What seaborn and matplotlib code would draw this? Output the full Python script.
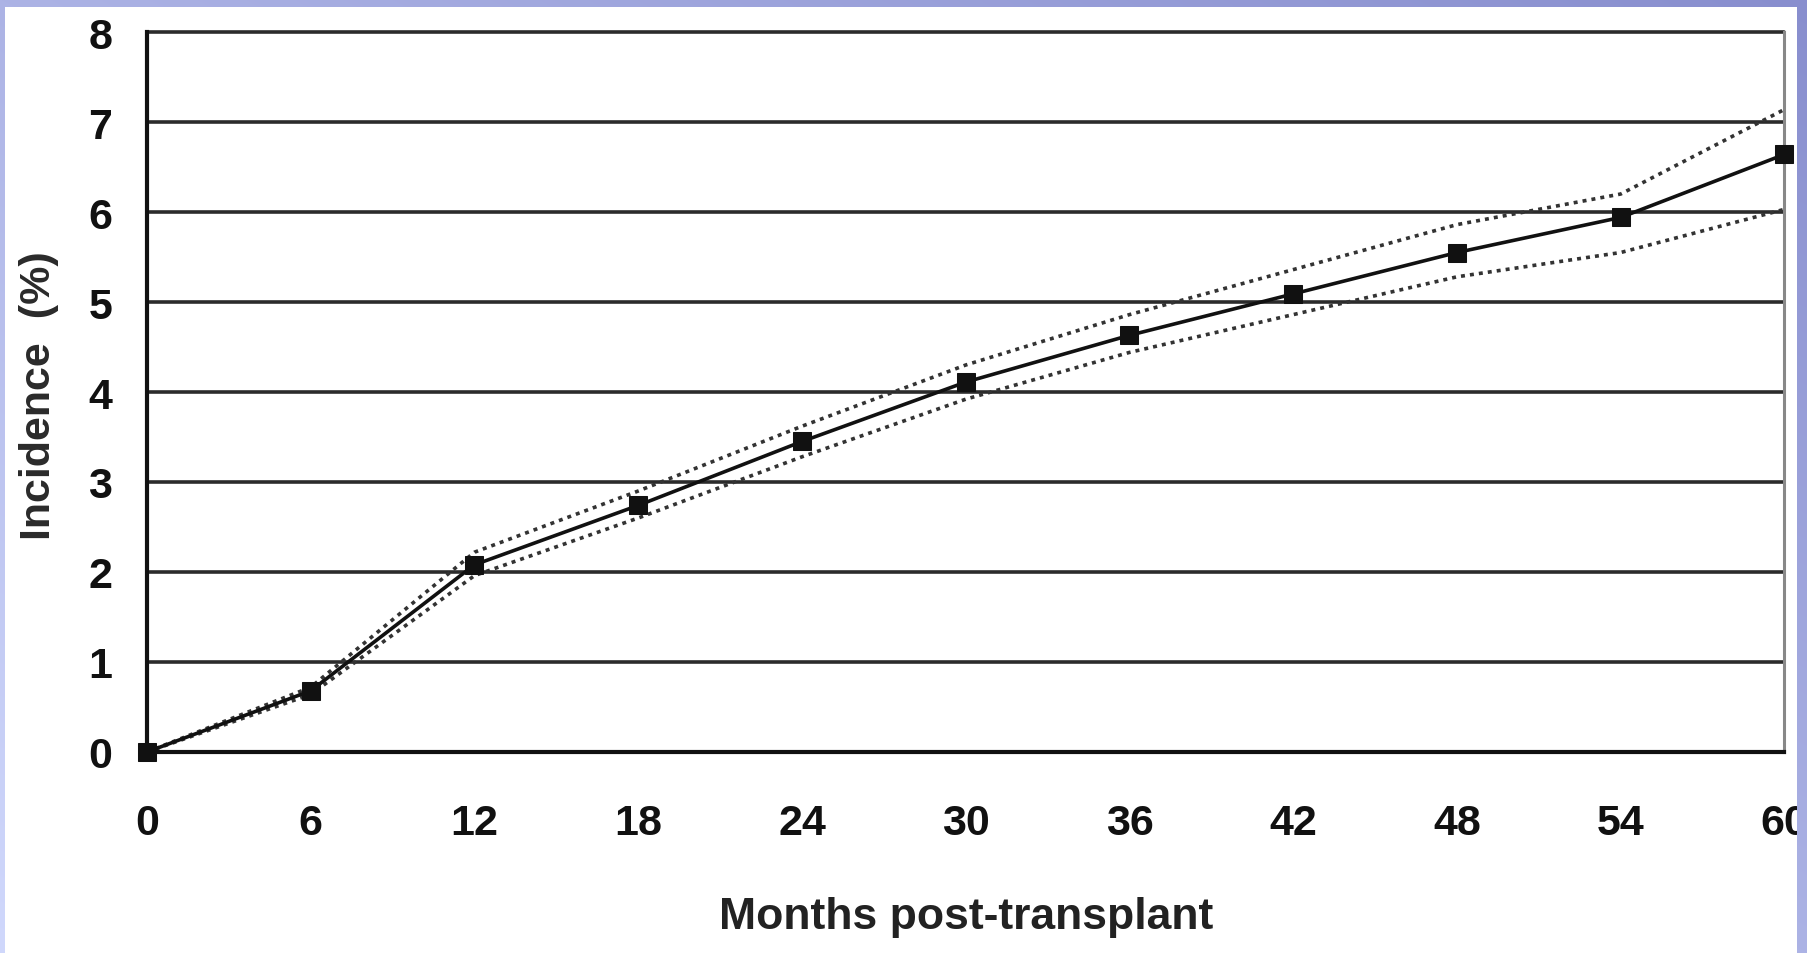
import numpy as np
import pandas as pd
import matplotlib
matplotlib.use("Agg")
import matplotlib.pyplot as plt
import seaborn as sns

# data
months = [0, 6, 12, 18, 24, 30, 36, 42, 48, 54, 60]
incidence = [0.0, 0.68, 2.08, 2.74, 3.45, 4.11, 4.63, 5.09, 5.55, 5.94, 6.64]
upper_ci = [0.0, 0.72, 2.22, 2.90, 3.62, 4.30, 4.86, 5.36, 5.86, 6.20, 7.14]
lower_ci = [0.0, 0.64, 1.96, 2.60, 3.28, 3.92, 4.44, 4.86, 5.28, 5.55, 6.03]

y_ticks = [0, 1, 2, 3, 4, 5, 6, 7, 8]

df = pd.DataFrame({"month": months, "inc": incidence, "up": upper_ci, "lo": lower_ci})

sns.set_style("white")
plt.rcParams["font.family"] = ["Liberation Sans", "DejaVu Sans"]
plt.rcParams["font.weight"] = "bold"

fig = plt.figure(figsize=(18.08, 9.54), dpi=100)
fig.patch.set_facecolor("white")
ax = fig.add_axes([0.0813, 0.2107, 0.9057, 0.7547])

# horizontal gridlines
for v in y_ticks[1:]:
    ax.axhline(v, color="#2b2b2b", lw=2.6, zorder=1, clip_on=False)

sns.lineplot(data=df, x="month", y="up", ax=ax, color="#333333", lw=2.6,
             linestyle=(0, (1.1, 1.4)), zorder=2)
sns.lineplot(data=df, x="month", y="lo", ax=ax, color="#333333", lw=2.6,
             linestyle=(0, (1.1, 1.4)), zorder=2)
sns.lineplot(data=df, x="month", y="inc", ax=ax, color="#111111", lw=2.6,
             marker="s", markersize=13, markeredgecolor="#111111", zorder=3)
for ln in ax.lines:
    ln.set_clip_on(False)

ax.set_xlim(0, 60)
ax.set_ylim(0, 8)
ax.set_xticks(months)
ax.set_yticks(y_ticks)
ax.tick_params(axis="x", direction="out", length=9, width=2, pad=28,
               labelsize=31, colors="#111111")
ax.tick_params(axis="y", direction="out", length=10, width=2.6, pad=15,
               labelsize=31, colors="#111111")
for lab in ax.get_xticklabels() + ax.get_yticklabels():
    lab.set_fontweight("bold")

for s in ["left", "bottom"]:
    ax.spines[s].set_color("#111111")
    ax.spines[s].set_linewidth(3)
ax.spines["top"].set_visible(False)
ax.spines["right"].set_color("#888888")
ax.spines["right"].set_linewidth(2.2)

ax.set_xlabel("Months post-transplant", fontsize=32, fontweight="bold", color="#222222")
ax.xaxis.set_label_coords(0.5, -0.228)
ax.xaxis.label.set_va("center")
ax.set_ylabel("Incidence  (%)", fontsize=31, fontweight="bold", color="#2a2a2a")
ax.yaxis.set_label_coords(-0.066, 0.497)
ax.yaxis.label.set_va("center")

# lavender frame round the scan
H, W = 954, 1808
yy, xx = np.mgrid[0:H, 0:W]
t = (xx / W + (1 - yy / H)) / 2
light = np.array([208, 216, 252]) / 255
dark = np.array([136, 142, 206]) / 255
rgba = np.zeros((H, W, 4))
rgba[..., :3] = light + (dark - light) * t[..., None]
mask = (xx < 5) | (yy < 8) | (xx >= 1797)
rgba[..., 3] = mask.astype(float)
over = fig.add_axes([0, 0, 1, 1], zorder=10)
over.imshow(rgba, aspect="auto", interpolation="nearest")
over.axis("off")

fig.savefig("out.png", dpi=100)
